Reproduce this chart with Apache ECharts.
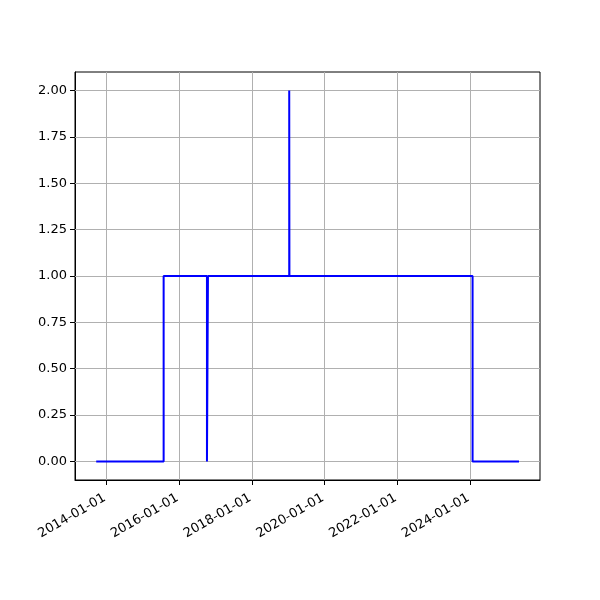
<!DOCTYPE html>
<html><head><meta charset="utf-8">
<script src="https://cdn.jsdelivr.net/npm/echarts@6/dist/echarts.min.js"></script>
<style>html,body{margin:0;padding:0;background:#fff}#c{width:600px;height:600px}</style>
</head><body><div id="c"></div>
<script>
const dates = ['2013-09-20','2015-07-29','2016-10-06','2016-10-16','2019-01-10','2019-01-12','2024-01-25','2025-05-05'];
const values = [0, 1, 0, 1, 2, 1, 0, 0];
const xTickLabels = ['2014-01-01','2016-01-01','2018-01-01','2020-01-01','2022-01-01','2024-01-01'];
const yTickValues = [0, 0.25, 0.5, 0.75, 1, 1.25, 1.5, 1.75, 2];
const yRange = [-0.1, 2.1];
const xRange = ['2013-02-19', '2025-12-02'];

const ts = s => Date.parse(s + 'T00:00:00Z');
const xTicks = xTickLabels.map(ts);
const pad = n => String(n).padStart(2, '0');
const fmt = v => { const d = new Date(v); return d.getUTCFullYear() + '-' + pad(d.getUTCMonth()+1) + '-' + pad(d.getUTCDate()); };
const font = 'DejaVu Sans';

const chart = echarts.init(document.getElementById('c'), null, {renderer: 'canvas'});
chart.setOption({
  animation: false,
  backgroundColor: '#fff',
  grid: {left: 75, right: 60, top: 72, bottom: 120, show: true, borderColor: '#000', borderWidth: 1, backgroundColor: 'transparent'},
  xAxis: {
    type: 'value', min: ts(xRange[0]), max: ts(xRange[1]),
    axisLine: {show: true, onZero: false, lineStyle: {color: '#000', width: 1}},
    axisTick: {show: true, length: 5, inside: false, customValues: xTicks, lineStyle: {color: '#000'}},
    axisLabel: {customValues: xTicks, formatter: v => fmt(v), rotate: 30, color: '#000', fontFamily: font, fontSize: 13, margin: 16, padding: [0, 2, 0, 0]},
    splitLine: {show: false}
  },
  yAxis: {
    type: 'value', min: yRange[0], max: yRange[1],
    axisLine: {show: true, onZero: false, lineStyle: {color: '#000', width: 1}},
    axisTick: {show: true, length: 5, customValues: yTickValues, lineStyle: {color: '#000'}},
    axisLabel: {customValues: yTickValues, formatter: v => v.toFixed(2), color: '#000', fontFamily: font, fontSize: 13, margin: 8},
    splitLine: {show: false}
  },
  series: [
    {type: 'line', data: [], silent: true,
     markLine: {silent: true, symbol: 'none', label: {show: false},
       lineStyle: {color: '#b0b0b0', width: 1, type: 'solid'},
       data: xTicks.map(x => ({xAxis: x})).concat(yTickValues.map(y => ({yAxis: y})))}},
    {type: 'line', step: 'end', showSymbol: false, symbol: 'none',
     data: dates.map((d, i) => [ts(d), values[i]]),
     lineStyle: {color: '#0000ff', width: 2}, itemStyle: {color: '#0000ff'}, z: 5}
  ]
});
</script></body></html>
